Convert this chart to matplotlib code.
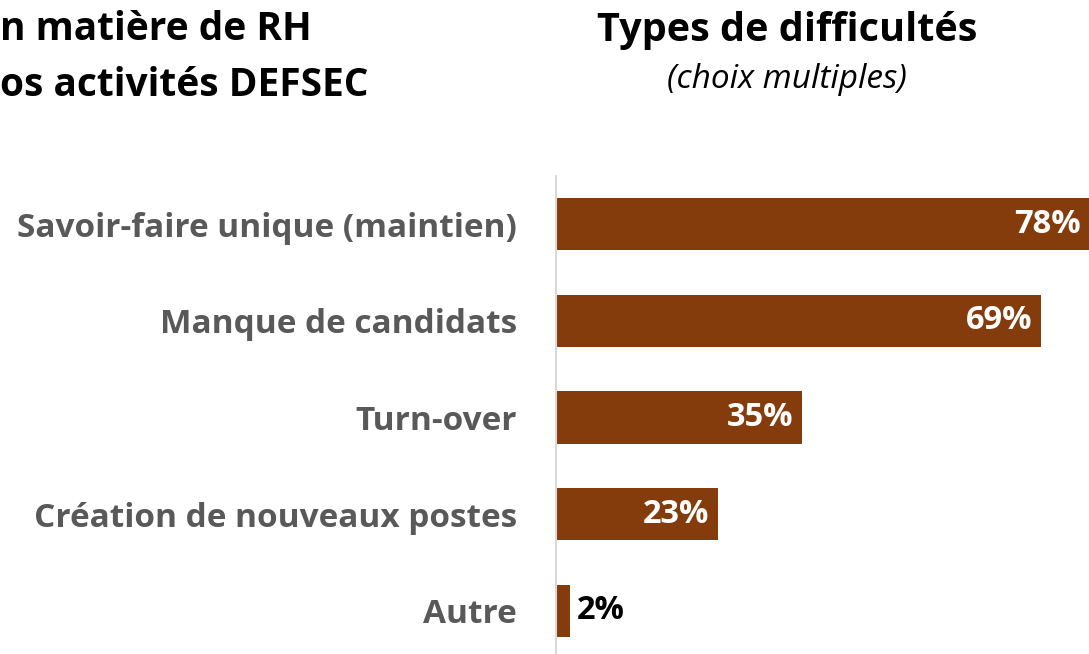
import matplotlib
matplotlib.use("Agg")
from matplotlib import pyplot as plt

# donnees
categories = ["Savoir-faire unique (maintien)", "Manque de candidats",
              "Turn-over", "Création de nouveaux postes", "Autre"]
valeurs = [78, 69, 35, 23, 2]
etiquettes = ["78%", "69%", "35%", "23%", "2%"]

BRUN = "#843C0C"
GRIS = "#595959"
plt.rcParams['font.family'] = ['Open Sans', 'DejaVu Sans']

fig = plt.figure(figsize=(10.89, 6.54), dpi=100)
ax = fig.add_axes([556 / 1089, -5 / 654, 533 / 1089, 483 / 654])

pos = list(range(len(categories)))
ax.barh(pos, valeurs, height=0.54, color=BRUN)
ax.set_xlim(0, 75.8)
ax.set_ylim(4.5, -0.5)

for sp in ["top", "right", "bottom"]:
    ax.spines[sp].set_visible(False)
ax.spines["left"].set_color("#D9D9D9")
ax.spines["left"].set_linewidth(1.5)
ax.set_xticks([])
ax.set_yticks(pos)
ax.set_yticklabels(categories, fontsize=24, fontweight="bold", color=GRIS)
ax.tick_params(axis="y", length=0, pad=28)

xmax = ax.get_xlim()[1]
for p, v, lab in zip(pos, valeurs, etiquettes):
    if v > 10:
        ax.annotate(lab, (min(v, xmax), p), xytext=(-6, 0),
                    textcoords="offset points", ha="right", va="center",
                    fontsize=23.5, fontweight="bold", color="white")
    else:
        ax.annotate(lab, (v, p), xytext=(5, 0),
                    textcoords="offset points", ha="left", va="center",
                    fontsize=23.5, fontweight="bold", color="black")

# titres
fig.text(787 / 1089, 1 - 31 / 654, "Types de difficultés", ha="center",
         va="center", fontsize=28.5, fontweight="bold", color="black")
fig.text(787 / 1089, 1 - 80 / 654, "(choix multiples)", ha="center",
         va="center", fontsize=24, style="italic", color="black")
fig.text(0, 1 - 29 / 654, "n matière de RH", ha="left",
         va="center", fontsize=28, fontweight="bold", color="black")
fig.text(0, 1 - 85 / 654, "os activités DEFSEC", ha="left",
         va="center", fontsize=28, fontweight="bold", color="black")

fig.savefig("out.png", dpi=100)
